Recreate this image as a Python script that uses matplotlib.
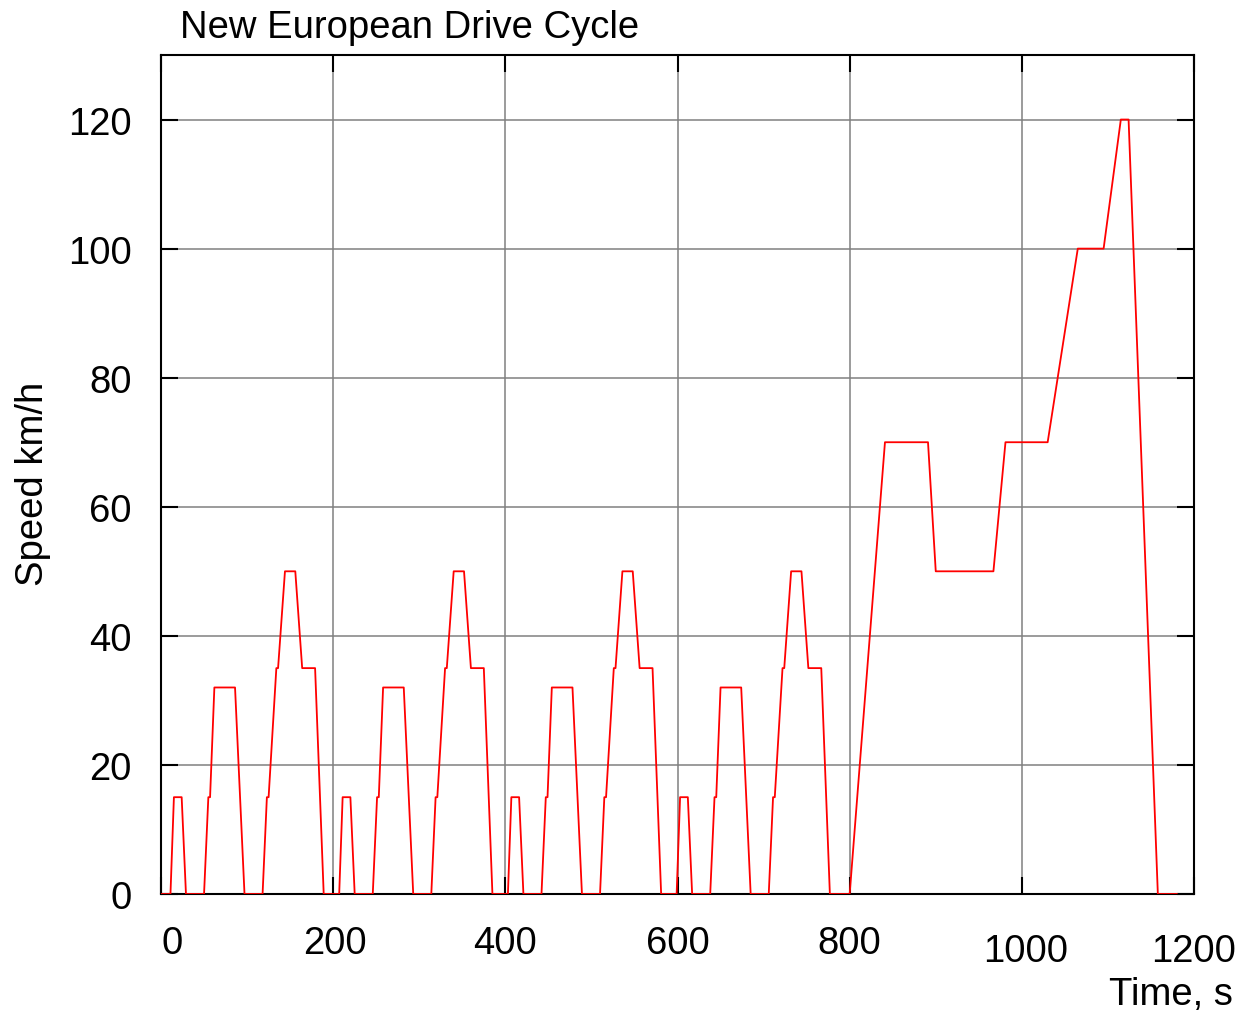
import numpy as np
import matplotlib
matplotlib.use("Agg")
import matplotlib.pyplot as plt
from matplotlib.transforms import ScaledTranslation

plt.rcParams['font.family'] = ['Liberation Sans', 'DejaVu Sans']

# urban cycle (ECE-15), run 4 times back to back
ece_t = [0, 11, 15, 24, 29, 50, 55, 57, 62, 86, 97, 118, 123, 125, 134, 136, 144, 156, 164, 179, 189, 196]
ece_v = [0, 0, 15, 15, 0, 0, 15, 15, 32, 32, 0, 0, 15, 15, 35, 35, 50, 50, 35, 35, 0, 0]
ece_repeats = 4

# extra-urban cycle (EUDC), times relative to its start at 780 s
eudc_start = 780
eudc_t = [20, 61, 111, 120, 187, 201, 250, 285, 315, 335, 344, 378, 400]
eudc_v = [0, 70, 70, 50, 50, 70, 70, 100, 100, 120, 120, 0, 0]

x_ticks = [0, 200, 400, 600, 800, 1000, 1200]
y_ticks = [0, 20, 40, 60, 80, 100, 120]

ece_len = ece_t[-1]
t = np.concatenate([np.array(ece_t) + k * ece_len for k in range(ece_repeats)]
                   + [np.array(eudc_t) + eudc_start])
v = np.concatenate([ece_v] * ece_repeats + [eudc_v])

W, H = 1253, 1012
FS = 27.5
fig = plt.figure(figsize=(W / 100, H / 100), dpi=100)
ax = fig.add_axes([161 / W, 1 - 895 / H, (1194 - 161) / W, (895 - 56) / H])

ax.plot(t, v, color='red', lw=1.3, zorder=3)

ax.set_xlim(0, 1200)
ax.set_ylim(0, 130)
ax.set_xticks(x_ticks)
ax.set_yticks(y_ticks)
ax.grid(True, color='#808080', lw=1.1)
ax.set_axisbelow(True)
ax.tick_params(direction='in', length=12, width=1.5, labelsize=FS,
               top=True, right=True, color='black')
ax.tick_params(axis='x', pad=22)
ax.tick_params(axis='y', pad=21)
for s in ax.spines.values():
    s.set_linewidth(1.5)

# gnuplot-style nudges of a few x labels
nudges = {0: (11, 0), 200: (2, 0), 1000: (4, -8.5), 1200: (0, -8.5)}
for val, lab in zip(x_ticks, ax.get_xticklabels()):
    if val in nudges:
        dx, dy = nudges[val]
        lab.set_transform(lab.get_transform() +
                          ScaledTranslation(dx / 100, dy / 100, fig.dpi_scale_trans))

fig.text(180 / W, 1 - 38 / H, 'New European Drive Cycle', fontsize=FS,
         ha='left', va='baseline')
fig.text(1233 / W, 1 - 1005 / H, 'Time, s', fontsize=FS, ha='right', va='baseline')
fig.text(33 / W, 1 - 484 / H, 'Speed km/h', fontsize=FS, rotation=90,
         ha='center', va='center')

fig.savefig('out.png', dpi=100)
